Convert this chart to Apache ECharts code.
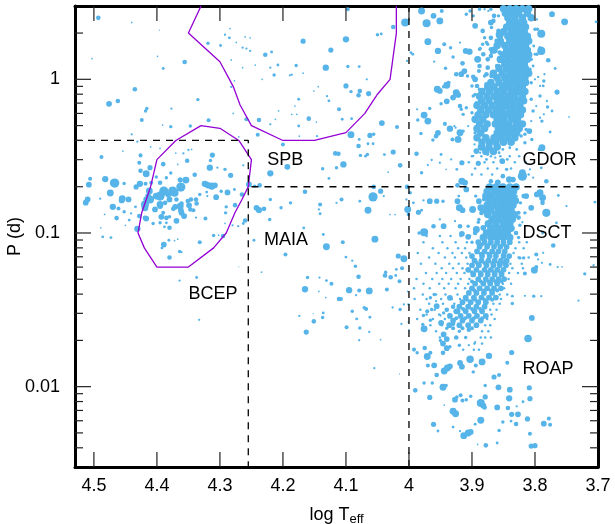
<!DOCTYPE html>
<html><head><meta charset="utf-8">
<style>html,body{margin:0;padding:0;background:#fff}#c{width:615px;height:524px}</style>
<script src="https://cdn.jsdelivr.net/npm/echarts@6/dist/echarts.min.js"></script>
</head><body><div id="c"></div>
<script>
// every star: [log Teff, log10 P(d), amplitude class]
const hotField=[[4.493,.4,4],[4.44,.37,1.5],[4.396,.32,1],[4.503,.135,1.5],[4.399,.15,1.5],[4.356,.113,4],[4.39,.07,2.5],[4.435,-.065,4],[4.476,-.159,5],[4.462,-.141,4],[4.335,-.132,3],[4.377,-.191,2],[4.416,-.19,3],[4.418,-.206,3],[4.424,-.265,3.5],[4.318,-.267,3.5],[4.378,-.308,3],[4.391,-.298,1.5],[4.347,-.304,3],[4.44,-.358,2],[4.431,-.406,2],[4.488,-.506,3.5],[4.454,-.467,1.5],[4.426,-.495,3.5],[4.428,-.543,3.5],[4.426,-.595,4],[4.506,-.647,3.5],[4.508,-.686,5],[4.482,-.649,5.5],[4.467,-.675,8],[4.469,-.673,6],[4.452,-.678,3],[4.474,-.74,6],[4.51,-.782,5],[4.513,-.803,5],[4.49,-.777,2],[4.455,-.777,6],[4.456,-.788,5],[4.445,-.782,5],[4.47,-.83,5.5],[4.461,-.84,3.5],[4.452,-.862,3],[4.483,-.879,1.5],[4.464,-.903,4],[4.441,-.873,2],[4.444,-.916,2.5],[4.45,-.95,1.5],[4.489,-.966,1.5],[4.486,-1.025,2.5],[4.473,-1.03,2.5],[4.431,-.973,5.5],[4.434,-.83,2.5],[4.37,-.48,1.5],[4.35,-.46,2],[4.395,-.45,1.5],[4.41,-.44,1.5]];
const bcepCore=[[4.433,-.7,4.5],[4.427,-.68,5.5],[4.417,-.615,6],[4.411,-.575,4.5],[4.418,-.68,3.5],[4.409,-.673,3.5],[4.401,-.636,3],[4.395,-.673,4],[4.39,-.552,4],[4.378,-.61,3],[4.385,-.64,3],[4.363,-.654,4.5],[4.352,-.53,4],[4.34,-.621,4],[4.316,-.575,5.5],[4.354,-.656,6],[4.362,-.701,8],[4.375,-.727,8],[4.372,-.738,7],[4.389,-.727,8],[4.412,-.727,6],[4.414,-.76,5],[4.411,-.782,7],[4.401,-.76,6],[4.395,-.76,8],[4.382,-.75,5],[4.38,-.782,5],[4.419,-.814,7],[4.417,-.782,5],[4.419,-.836,6],[4.395,-.814,6],[4.387,-.804,4],[4.369,-.782,4],[4.361,-.808,4],[4.351,-.792,4],[4.346,-.782,4],[4.338,-.782,4],[4.337,-.808,4],[4.349,-.82,5],[4.342,-.852,3.5],[4.347,-.847,4],[4.403,-.847,5],[4.395,-.825,5],[4.371,-.83,5],[4.363,-.825,6],[4.362,-.852,5],[4.374,-.843,4],[4.361,-.869,5],[4.357,-.89,5],[4.39,-.869,3.5],[4.393,-.895,5],[4.385,-.902,4],[4.38,-.895,3],[4.369,-.921,5],[4.417,-.906,5],[4.419,-.902,4],[4.428,-.89,4],[4.406,-.938,3],[4.395,-.934,3],[4.385,-.934,2.5],[4.38,-.966,4],[4.388,-.96,2.5],[4.356,-.89,4],[4.323,-.906,3.5],[4.338,-.9,2],[4.324,-.68,5.5],[4.319,-.69,5.5],[4.313,-.695,6.5],[4.308,-.69,5],[4.321,-.684,5],[4.298,-.728,3],[4.306,-.767,5],[4.288,-.736,5],[4.277,-.717,2.5],[4.265,-.75,4],[4.276,-.819,4],[4.29,-.83,3],[4.291,-.869,3],[4.321,-.734,2.5],[4.32,-.76,2],[4.332,-.749,3],[4.283,-.625,4.5],[4.304,-.575,2],[4.292,-.586,3],[4.263,-.56,2],[4.312,-.493,4.5],[4.315,-.528,3],[4.358,-.482,2],[4.345,-.456,1.5],[4.367,-.554,1.5],[4.26,-.919,4],[4.263,-.938,2.5],[4.271,-.956,2],[4.292,-.938,1.5],[4.28,-.95,2],[4.295,-1.02,4],[4.31,-1.016,3],[4.302,-1.014,1.5],[4.332,-1.06,3.5],[4.364,-1.12,3],[4.367,-1.04,1.5],[4.372,-1.05,1.5],[4.381,-1.047,2.5],[4.389,-1.075,5],[4.392,-1.097,2.5],[4.38,-1.16,4],[4.361,-1.125,2],[4.337,-1.29,2.5],[4.364,-1.31,2],[4.333,-1.565,2],[4.27,-1.22,1],[4.234,-1.255,1.5]];
const midField=[[4.319,.235,3],[4.299,.22,2.5],[4.292,.29,2],[4.284,.33,1.5],[4.285,.27,2.5],[4.274,.24,1.5],[4.26,.276,1.5],[4.252,.27,1.5],[4.264,.206,2],[4.258,.2,2],[4.252,.185,2],[4.228,.16,4],[4.218,.178,2.5],[4.168,.248,4.5],[4.124,.19,4.5],[4.282,.126,1.5],[4.264,.076,1.5],[4.244,.093,1.5],[4.208,.093,2.5],[4.22,.076,2],[4.179,.09,3],[4.132,.076,5.5],[4.214,.028,3],[4.189,.026,2],[4.186,.03,2],[4.168,.04,1.5],[4.233,0,1.5],[4.277,-.01,1.5],[4.282,-.05,2],[4.151,-.076,1.5],[4.144,-.048,1.5],[4.13,-.11,2],[4.175,-.13,2.5],[4.127,-.14,2.5],[4.111,-.195,3.5],[4.207,-.206,1.5],[4.181,-.174,1.5],[4.186,-.228,1.5],[4.178,-.228,1.5],[4.279,-.222,1.5],[4.258,-.26,3.5],[4.238,-.265,4],[4.212,-.26,1.5],[4.159,-.256,4],[4.147,-.278,1.5],[4.175,-.304,2.5],[4.22,-.293,2],[4.24,-.36,3.5],[4.174,-.37,1.5],[4.146,-.37,2],[4.27,-.374,1.5],[4.2,-.424,3.5],[4.117,-.482,4],[4.112,-.484,4],[4.193,-.569,5],[4.22,-.612,5.5],[4.137,-.582,3],[4.115,-.576,3],[4.127,-.645,2.5],[4.254,-.684,5],[4.237,-.69,4],[4.245,-.695,3],[4.165,-.732,4],[4.22,-.782,3],[4.188,-.804,3],[4.203,-.836,3],[4.141,-.814,3.5],[4.143,-.847,2],[4.141,-.875,2.5],[4.115,-.804,2],[4.242,-.836,5],[4.238,-.851,5.5],[4.23,-.843,4],[4.221,-.912,3],[4.167,-.967,2.5],[4.136,-1.01,2.5],[4.131,-1.09,6],[4.246,-1.047,2.5],[4.196,-1.14,3.5],[4.161,-1.29,3],[4.142,-1.29,2],[4.131,-1.31,2.5],[4.123,-1.33,3.5],[4.165,-1.366,5.5],[4.143,-1.38,1.5],[4.132,-1.42,1.5],[4.111,-1.43,4],[4.174,-1.54,2],[4.152,-1.525,1],[4.136,-1.52,2.5],[4.137,-1.55,3],[4.151,-1.575,4],[4.163,-1.645,4.5],[4.097,.456,3.5],[4.1,.26,5.5],[4.05,.29,3],[4.044,.295,2.5],[4.025,.34,4],[4.006,.37,7],[4.097,.083,3],[4.079,.083,2.5],[4.067,0,2],[4.1,-.043,4.5],[4.092,-.08,3],[4.078,-.076,4],[4.08,-.104,4],[4.064,-.093,4.5],[4.106,-.26,2.5],[4.091,-.256,2.5],[4.043,-.285,5],[4.062,-.365,4.5],[4.056,-.358,3],[4.092,-.36,6],[4.019,-.31,3.5],[4.025,-.473,4.5],[4.039,-.49,2.5],[4.066,-.489,3],[4.077,-.495,3],[4.069,-.5,2.5],[4.08,-.434,4],[4.079,-.391,2.5],[4.065,-.419,2.5],[4.057,-.419,2.5],[4.104,-.554,5.5],[4.014,-.56,4],[4.033,-.604,1.5],[4.057,-.765,8],[4.045,-.728,4.5],[4.056,-.7,4],[4.065,-.852,6],[4.107,-.782,3.5],[4.078,-.793,2.5],[4.04,-.76,2],[4.03,-.88,1.5],[4.022,-.88,1.5],[4.054,-1.04,6],[4.105,-1.06,3.5],[4.1,-1.157,2.5],[4.09,-1.18,2],[4.085,-1.216,3],[4.08,-1.285,4],[4.017,-1.15,4.5],[4.008,-1.168,6],[4.011,-1.23,3.5],[4.02,-1.237,2.5],[4.037,-1.255,3],[4.038,-1.277,4],[4.029,-1.288,4],[4.021,-1.277,2.5],[4.015,-1.314,3.5],[4.035,-1.368,3.5],[4.095,-1.372,5.5],[4.079,-1.374,3.5],[4.063,-1.377,6],[4.084,-1.405,2],[4.108,-1.429,3.5],[4.09,-1.509,3],[4.071,-1.487,3],[4.068,-1.494,3.5],[4.026,-1.485,2],[4.014,-1.498,3],[4.008,-1.465,2],[4.001,-1.465,2],[4.062,-1.548,2.5],[4.083,-1.559,2.5],[4.012,-1.592,2],[4.099,-1.613,3.5],[4.078,-1.618,3],[4.063,-1.644,2],[4.079,-1.698,2],[4.045,-1.694,1.5],[4.055,-1.88,2],[4.015,-1.917,1],[4,-1.63,1.5],[4.001,-1.58,1.5],[4.002,-1.38,1.5]];
const coolUpper=[[3.98,.445,6],[3.972,.365,7],[3.961,.413,5],[3.951,.38,6],[3.948,.445,3.5],[3.97,.245,6],[3.954,.185,5.5],[3.944,.228,3.5],[3.934,.206,3],[3.919,.239,2],[3.91,.185,5],[3.904,.18,5.5],[3.887,.2,3],[3.93,.145,3],[3.997,.174,2.5],[3.994,.163,2.5],[4.003,.12,2],[3.96,.115,2],[3.915,.104,4],[3.912,.054,5],[3.917,.033,5],[3.925,.033,4],[3.942,.072,3],[3.898,.017,4],[3.889,.054,3.5],[3.877,.033,4],[3.94,-.039,6],[3.945,-.048,3],[3.955,-.065,6],[3.951,-.076,5],[3.937,-.022,3.5],[3.925,-.087,6],[3.922,-.102,5],[3.94,-.143,5],[3.93,-.119,5],[3.94,-.141,3],[3.949,-.159,3],[3.967,-.19,3],[3.976,-.233,6],[3.97,-.272,6],[3.986,-.265,3],[3.987,-.195,2],[3.943,-.29,3.5],[3.928,-.304,2],[3.954,-.348,5],[3.957,-.37,4],[3.981,-.352,3],[3.962,-.395,3],[3.935,-.321,5.5],[3.931,-.391,3.5],[3.919,-.348,6],[3.922,-.391,6],[3.914,-.337,3],[3.926,-.315,2],[3.894,-.373,2],[3.988,-.484,4],[3.98,-.608,3],[3.97,-.558,2],[3.964,-.525,2],[3.949,-.489,2.5],[3.951,-.543,2],[3.933,-.521,2],[3.941,-.586,1.5],[3.916,-.543,4.5],[3.924,-.586,2.5],[3.916,-.663,6],[3.911,-.673,5],[3.923,-.69,4],[3.909,-.717,5],[3.888,.456,3],[3.87,.456,3],[3.88,.456,2],[3.865,.413,4],[3.87,.369,5],[3.866,.38,4],[3.856,.29,7],[3.87,.27,4],[3.883,.315,4],[3.88,.27,3],[3.883,.228,3],[3.875,.228,3],[3.861,.25,4],[3.87,.195,4],[3.891,.13,6],[3.875,.13,4],[3.87,.152,4],[3.856,.12,4],[3.875,.076,4],[3.86,.087,4],[3.85,.12,4],[3.888,.087,4],[3.895,0,5],[3.892,-.043,4],[3.898,-.109,3],[3.9,-.043,3],[3.907,.022,3],[3.88,.022,3],[3.864,.011,3],[3.806,.39,2],[3.797,.39,2],[3.796,.326,3],[3.8,.326,3],[3.81,.26,3],[3.797,.163,3],[3.803,.087,2.5],[3.8,.163,2.5],[3.802,.217,2.5],[3.773,.424,5],[3.753,.374,6],[3.703,.374,2.5],[3.79,.297,7],[3.79,.185,7],[3.792,.206,3],[3.779,.124,4],[3.768,.07,2.5],[3.765,-.083,4.5],[3.785,.033,2],[3.786,-.011,3],[3.787,-.043,2.5],[3.795,.015,2],[3.792,-.109,3],[3.781,-.141,2],[3.78,-.18,3],[3.773,-.206,2.5],[3.786,-.228,2],[3.746,-.245,1.5],[3.789,-.272,3],[3.776,-.343,2.5],[3.809,-.337,5],[3.816,-.358,3],[3.806,-.272,2]];
const coolFringe=[[3.895,.348,5],[3.898,.413,3],[3.909,.424,3],[3.903,.445,3],[3.874,.445,2],[3.858,.413,3],[3.869,.337,3],[3.858,.315,4],[3.877,.239,3],[3.888,.195,3],[3.869,.174,3],[3.882,.163,4],[3.856,.174,4],[3.845,.217,4],[3.858,.087,4],[3.869,.022,4],[3.877,-.033,4],[3.888,-.065,3],[3.895,-.098,3],[3.893,-.152,3],[3.888,-.185,4],[3.895,-.271,4],[3.893,-.228,3],[3.89,-.315,3],[3.895,-.348,3],[3.9,-.217,3],[3.909,-.185,3],[3.919,-.174,4],[3.917,-.195,3],[3.914,-.228,3],[3.906,-.304,2],[3.806,-.13,3],[3.803,-.206,3],[3.798,-.174,2],[3.806,-.022,3],[3.8,0,2],[3.808,.065,3],[3.806,.13,3],[3.792,-.043,2],[3.792,-.25,2],[3.814,-.326,3],[3.822,-.369,3],[3.83,-.39,3],[3.84,-.402,3],[3.885,-.87,4],[3.89,-.93,3],[3.895,-1,4],[3.9,-1.06,3],[3.826,-.9,4],[3.824,-.95,3],[3.83,-1,4],[3.826,-1.03,3],[3.82,-.93,2]];
const coolBridge=[[3.789,-.445,6],[3.793,-.456,3],[3.805,-.391,3],[3.816,-.413,3],[3.835,-.413,3],[3.829,-.456,2.5],[3.84,-.445,2.5],[3.851,-.456,2.5],[3.857,-.478,2.5],[3.866,-.456,2],[3.875,-.489,2.5],[3.893,-.467,5],[3.896,-.424,2],[3.877,-.521,2.5],[3.863,-.51,2],[3.852,-.532,5],[3.844,-.521,2.5],[3.89,-.547,4.5],[3.887,-.478,2],[3.898,-.499,2],[3.82,-.63,8],[3.82,-.608,6],[3.835,-.652,5],[3.841,-.652,5.5],[3.851,-.63,4],[3.859,-.67,5],[3.87,-.663,4],[3.845,-.586,3],[3.782,-.663,4],[3.79,-.576,2.5],[3.808,-.586,2],[3.803,-.64,2],[3.792,-.738,6],[3.797,-.749,5],[3.788,-.771,6],[3.782,-.869,7],[3.788,-.804,4],[3.763,-.756,2.5],[3.766,-.934,2.5],[3.788,-1,2.5],[3.705,-.799,2.5],[3.75,-.825,2],[3.806,-.836,5],[3.826,-.869,3.5],[3.816,-.869,3],[3.814,-.76,5],[3.823,-.804,3],[3.818,-.76,4],[3.832,-.7,3],[3.83,-.76,3],[4.003,-.7,4],[3.998,-.738,3],[4.004,-.782,2],[4.002,-.847,6],[4.001,-.88,3],[3.985,-.865,4.5],[3.993,-.804,2.5],[3.967,-.793,5],[3.956,-.793,4.5],[3.977,-.788,2],[3.98,-.852,2.5],[3.946,-.793,3],[3.92,-.836,6],[3.915,-.852,5],[3.899,-.847,6],[3.923,-.793,5],[3.921,-.76,2.5],[3.886,-.836,6],[3.889,-.793,5],[3.894,-.76,3],[3.881,-.782,3.5],[3.976,-.995,7],[3.984,-1,3],[3.945,-.956,5],[3.927,-.923,2],[3.919,-.956,4],[3.961,-.956,4],[3.951,-.912,2],[3.906,-.956,3],[3.893,-.977,6],[3.882,-.966,5],[3.916,-1.005,5],[3.906,-1.025,5],[3.889,-.912,3],[3.771,-1.081,4]];
const coolLower=[[3.99,-2.024,4],[3.976,-1.976,3],[3.963,-1.976,3],[3.967,-2.07,4.5],[3.946,-2.004,6],[3.941,-1.993,3],[3.944,-2.12,1.5],[3.961,-2.245,4.5],[3.954,-2.289,2.5],[3.93,-2.16,6],[3.926,-2.176,6],[3.93,-2.263,2.5],[3.927,-2.085,5],[3.924,-2.067,3],[3.918,-2.056,3.5],[3.915,-2.09,3.5],[3.909,-2.085,3],[3.902,-2.063,3],[3.919,-2.29,2],[3.913,-2.319,6],[3.906,-2.302,6],[3.902,-2.295,5],[3.886,-2.106,7],[3.882,-2.124,5],[3.88,-2.135,4],[3.879,-2.067,4.5],[3.879,-1.993,3],[3.895,-2.245,2.5],[3.886,-2.219,6],[3.857,-2.285,3],[3.878,-2.382,4],[3.86,-2.367,2.5],[3.891,-2.376,1.5],[3.86,-2.135,5],[3.841,-2.076,5.5],[3.843,-2.139,4],[3.84,-2.02,5],[3.858,-2.004,5],[3.865,-1.937,4.5],[3.857,-1.924,3.5],[3.837,-2.18,4.5],[3.827,-2.18,5],[3.829,-2.128,2],[3.819,-2.098,2.5],[3.851,-2.23,3],[3.838,-2.224,2.5],[3.83,-2.243,4],[3.812,-2.21,4.5],[3.808,-2.306,3.5],[3.806,-2.387,4.5],[3.8,-2.384,4.5],[3.809,-2.007,4.5],[3.808,-2.078,4.5],[3.786,-2.241,5],[3.778,-2.208,3.5],[3.776,-2.248,3.5],[3.837,-1.778,4.5],[3.844,-1.844,3.5],[3.873,-1.8,5.5],[3.884,-1.839,6],[3.894,-1.863,3.5],[3.903,-1.822,6.5],[3.916,-1.87,5],[3.919,-1.846,5],[3.939,-1.878,6],[3.944,-1.898,6],[3.935,-1.868,5],[3.956,-1.924,4],[3.96,-1.861,5],[3.97,-1.863,3.5],[3.971,-1.804,6],[3.966,-1.78,3.5],[3.975,-1.748,4],[3.992,-1.759,3.5],[3.987,-1.78,3],[3.898,-1.904,3],[3.811,-1.687,6.5],[3.805,-1.553,5],[3.79,-1.411,2],[3.802,-1.411,3],[3.816,-1.409,2],[3.836,-1.411,2.5],[3.836,-1.459,3],[3.731,-1.44,2],[3.721,-1.266,3],[3.707,-1.21,2],[3.757,-1.22,1.5],[3.764,-1.222,2],[3.776,-1.205,2.5],[3.801,-1.242,6],[3.798,-1.222,3.5],[3.816,-1.264,3.5],[3.789,-1.194,2],[3.795,-1.172,2],[3.798,-1.14,3.5],[3.787,-1.129,2],[3.824,-1.162,3],[3.818,-1.162,3],[3.976,-1.624,6],[3.978,-1.596,3],[3.977,-1.537,3],[3.966,-1.568,3],[3.949,-1.585,5],[3.95,-1.537,2],[3.956,-1.476,5],[3.964,-1.498,3],[3.971,-1.509,3.5],[3.957,-1.444,2],[3.966,-1.422,3],[3.96,-1.4,3],[3.935,-1.422,5],[3.94,-1.5,4],[3.935,-1.54,5],[3.945,-1.52,3],[3.93,-1.48,4],[3.923,-1.51,5],[3.93,-1.59,4],[3.94,-1.62,3],[3.945,-1.66,5],[3.94,-1.69,5],[3.946,-1.72,5],[3.94,-1.75,5],[3.946,-1.78,4],[3.935,-1.74,3],[3.95,-1.7,3],[3.92,-1.73,3],[3.925,-1.68,4],[3.91,-1.68,3],[3.905,-1.73,2],[3.895,-1.71,2],[3.92,-1.64,3],[3.905,-1.63,4]];
// dense cores, read row by row: [log10 P, [log Teff, ...]]
const gdorAmp=6.5;
const gdorRows=[[.46,[3.85,3.84,3.83,3.82,3.81]],[.43,[3.847,3.836,3.826,3.812]],[.4,[3.843,3.832,3.82,3.806]],[.37,[3.84,3.829,3.818]],[.34,[3.845,3.834,3.824,3.815]],[.31,[3.85,3.838,3.828,3.817]],[.28,[3.843,3.833,3.822,3.812]],[.25,[3.855,3.84,3.83,3.82,3.81]],[.22,[3.86,3.848,3.836,3.826,3.815]],[.19,[3.865,3.845,3.834,3.823,3.812]],[.16,[3.85,3.84,3.83,3.82,3.81]],[.13,[3.855,3.843,3.832,3.822,3.812]],[.1,[3.848,3.838,3.828,3.817]],[.07,[3.857,3.845,3.835,3.825,3.815]],[.04,[3.866,3.852,3.84,3.83,3.82,3.81]],[.01,[3.86,3.848,3.837,3.827,3.816]],[-.02,[3.87,3.857,3.845,3.834,3.823,3.815]],[-.05,[3.875,3.865,3.852,3.841,3.83,3.82]],[-.08,[3.884,3.872,3.86,3.849,3.837,3.826,3.816]],[-.11,[3.888,3.876,3.864,3.854,3.843,3.832,3.82]],[-.14,[3.885,3.873,3.86,3.85,3.839,3.828,3.818]],[-.17,[3.892,3.88,3.868,3.857,3.846,3.835,3.824]],[-.2,[3.886,3.874,3.862,3.852,3.84,3.83,3.82]],[-.23,[3.89,3.878,3.866,3.856,3.845,3.834,3.823]],[-.26,[3.895,3.883,3.86,3.85,3.838,3.828]],[-.29,[3.888,3.876,3.863,3.853,3.842,3.83,3.82]],[-.32,[3.892,3.88,3.858,3.847,3.836,3.825]],[-.35,[3.886,3.86,3.85,3.84,3.829]],[-.38,[3.892,3.878,3.865,3.854,3.843,3.832]],[-.41,[3.884,3.872,3.862,3.85,3.838]],[-.44,[3.885,3.873,3.86]],[-.47,[3.878,3.866]]];
const dsctAmp=6.5;
const dsctRows=[[-.7,[3.872,3.862,3.851,3.84,3.83]],[-.73,[3.876,3.865,3.855,3.844,3.834]],[-.76,[3.878,3.868,3.857,3.847,3.836]],[-.79,[3.873,3.862,3.852,3.841,3.831]],[-.82,[3.876,3.865,3.854,3.845,3.835]],[-.85,[3.88,3.87,3.858,3.848,3.838]],[-.88,[3.875,3.863,3.852,3.842,3.833]],[-.91,[3.868,3.857,3.846,3.836]],[-.94,[3.874,3.862,3.85,3.84]],[-.97,[3.87,3.859,3.848,3.838]],[-1,[3.877,3.866,3.855,3.844]],[-1.03,[3.882,3.87,3.86,3.85,3.84]]];
const lowerAmp=5;
const lowerRows=[[-1.06,[3.89,3.88,3.87,3.86,3.85,3.84]],[-1.09,[3.888,3.876,3.865,3.855,3.845]],[-1.12,[3.892,3.88,3.868,3.858,3.848]],[-1.15,[3.9,3.884,3.872,3.862,3.85,3.841]],[-1.18,[3.896,3.885,3.874,3.864,3.854,3.845]],[-1.21,[3.9,3.889,3.877,3.866,3.856,3.846]],[-1.24,[3.906,3.893,3.88,3.87,3.86,3.85]],[-1.27,[3.898,3.886,3.875,3.864,3.853]],[-1.3,[3.89,3.878,3.868,3.858,3.849]],[-1.33,[3.895,3.882,3.871,3.86]],[-1.36,[3.9,3.888,3.876,3.865,3.854]],[-1.39,[3.905,3.893,3.881,3.868]],[-1.42,[3.91,3.897,3.885,3.873,3.862]],[-1.45,[3.915,3.902,3.89,3.878]],[-1.48,[3.92,3.906,3.893,3.88]],[-1.51,[3.925,3.91,3.896,3.884]],[-1.54,[3.918,3.905,3.892,3.878]],[-1.57,[3.93,3.915,3.9,3.886]],[-1.6,[3.936,3.92,3.906,3.893]]];
const fillAmp=3.5;
const fillRows=[[-1.075,[3.884,3.873,3.862,3.851]],[-1.135,[3.886,3.874,3.862,3.85]],[-1.195,[3.892,3.88,3.868,3.858,3.85]],[-1.255,[3.9,3.887,3.875,3.865,3.855]],[-1.315,[3.9,3.886,3.874,3.863,3.853]],[-1.375,[3.896,3.882,3.87,3.86]],[-1.435,[3.908,3.895,3.88,3.868]],[-1.495,[3.914,3.9,3.887]],[-1.555,[3.925,3.911,3.897,3.884]],[-1.62,[3.93,3.915,3.9]]];
const faintAmp=2.2;
const faintRows=[[-.5,[3.9,3.885,3.87,3.855,3.84,3.825]],[-.54,[3.905,3.88,3.866,3.85,3.832,3.815]],[-.58,[3.895,3.875,3.86,3.838]],[-.62,[3.9,3.885,3.868,3.81]],[-1.02,[3.972,3.951,3.934,3.918,3.903]],[-1.06,[3.977,3.947,3.926,3.908,3.825,3.813]],[-1.1,[3.962,3.939,3.922,3.911,3.831,3.818]],[-1.13,[3.986,3.953,3.931,3.916,3.904,3.834]],[-1.16,[3.968,3.943,3.927,3.909,3.826,3.81]],[-1.2,[3.981,3.958,3.936,3.921,3.907,3.839,3.821]],[-1.23,[3.948,3.93,3.915,3.836,3.819]],[-1.26,[3.973,3.956,3.941,3.924,3.912,3.841,3.827]],[-1.3,[3.988,3.963,3.947,3.933,3.918,3.904,3.842]],[-1.33,[3.977,3.952,3.937,3.922,3.906,3.851,3.838]],[-1.36,[3.992,3.967,3.944,3.926,3.911,3.849]],[-1.4,[3.978,3.957,3.942,3.923,3.856,3.844]],[-1.43,[3.991,3.972,3.949,3.932,3.919,3.854]],[-1.46,[3.968,3.946,3.928,3.866,3.856]],[-1.5,[3.982,3.959,3.941,3.871,3.861]],[-1.53,[3.972,3.952,3.936,3.869]],[-1.56,[3.987,3.962,3.943,3.876,3.864]],[-1.6,[3.966,3.948,3.879,3.871]],[-1.64,[3.957,3.884,3.874]],[-1.68,[3.951,3.886,3.879,3.87]],[-1.72,[3.896,3.884]],[-1.76,[3.914,3.897,3.889]]];
// instability-strip contours and boundaries: [log Teff, P]
const bcepContour=[[4.33,.5],[4.3,.48],[4.27,.4],[4.25,.3],[4.255,.2],[4.265,.165],[4.276,.136],[4.29,.1],[4.31,.08],[4.35,.06],[4.4,.06],[4.42,.08],[4.43,.1],[4.424,.136],[4.41,.2],[4.4,.3],[4.37,.4],[4.33,.5]];
const spbContour=[[4.33,3],[4.35,2],[4.3,1.3],[4.279,.9],[4.268,.68],[4.25,.5],[4.2,.4],[4.15,.4],[4.1,.45],[4.07,.6],[4.05,.8],[4.03,1],[4.02,2],[4.02,3]];
const boundaries=[[[4.53,.4],[4.255,.4],[4.255,.003]],[[4.25,.2],[3.7,.2]],[[4,.003],[4,3]]];
const classNames=["SPB","MAIA","BCEP","GDOR","DSCT","ROAP"];
const classAnchors=[[4.225,.3],[4.23,.09],[4.35,.04],[3.82,.3],[3.82,.1],[3.82,.013]];
// tick values of the frame
const tempTicks=[3.8,3.9,4,4.1,4.2,4.3,4.4,4.5];
const majorPeriods=[0.01,0.1,1];
const minorPeriods=[0.004,0.005,0.006,0.007,0.008,0.009,0.02,0.03,0.04,0.05,0.06,0.07,0.08,0.09,0.2,0.3,0.4,0.5,0.6,0.7,0.8,0.9,2];
const tMin=3.7,tMax=4.53,pMin=0.003,pMax=3;

const expand=(rows,amp)=>rows.flatMap(([lp,ts])=>ts.map(t=>[t,lp,amp]));
const stars=[].concat(hotField,bcepCore,midField,coolUpper,coolBridge,coolLower,coolFringe,expand(faintRows,faintAmp),expand(lowerRows,lowerAmp),expand(fillRows,fillAmp),expand(dsctRows,dsctAmp),expand(gdorRows,gdorAmp)).map(([t,lp,a])=>[t,Math.pow(10,lp),a]);

const font='"Liberation Sans"', fs=18, ink='#000';
// frame ticks as thin rectangular symbols anchored on the axes
const tickMarks=(data,size,offset)=>({type:'scatter',data,symbol:'rect',symbolSize:size,symbolOffset:offset,silent:true,clip:false,z:10,itemStyle:{color:'#222',opacity:1}});
const xBase={type:'value',min:tMin,max:tMax,interval:.1,inverse:true,splitLine:{show:false},axisTick:{show:false}};
const yBase={type:'log',logBase:10,min:pMin,max:pMax,splitLine:{show:false},minorSplitLine:{show:false},axisTick:{show:false},minorTick:{show:false}};
const frame={show:true,onZero:false,lineStyle:{color:'#000',width:3}};
const c=echarts.init(document.getElementById('c'),null,{renderer:'canvas'});
c.setOption({
 animation:false,
 grid:{left:75,right:17,top:6,bottom:57,containLabel:false,outerBoundsMode:'none'},
 xAxis:[
  {...xBase,position:'bottom',axisLine:frame,
   axisLabel:{color:ink,fontFamily:font,fontSize:fs,margin:10,showMaxLabel:false},
   name:'log T{s|eff}',nameLocation:'middle',nameGap:37,
   nameTextStyle:{color:ink,fontFamily:font,fontSize:fs,rich:{s:{fontFamily:font,fontSize:13,color:ink,verticalAlign:'bottom',padding:[9,0,0,0]}}}},
  {...xBase,position:'top',axisLine:frame,axisLabel:{show:false}}
 ],
 yAxis:[
  {...yBase,position:'left',axisLine:frame,
   axisLabel:{color:ink,fontFamily:font,fontSize:fs,margin:15,showMinLabel:false,showMaxLabel:false,formatter:v=>String(v)},
   name:'P (d)',nameLocation:'middle',nameGap:51,nameRotate:90,nameMoveOverlap:false,nameTextStyle:{color:ink,fontFamily:font,fontSize:fs}},
  {...yBase,position:'right',axisLine:frame,axisLabel:{show:false}}
 ],
 series:[
  {type:'scatter',data:stars,symbol:'circle',symbolSize:v=>v[2]*1.15,large:false,progressive:0,itemStyle:{color:'#56B4E9',opacity:1},silent:true,z:2,clip:true},
  ...[bcepContour,spbContour].map(d=>({type:'line',data:d,symbol:'none',silent:true,clip:true,z:3,lineStyle:{color:'#9400D3',width:1.3}})),
  ...boundaries.map(d=>({type:'line',data:d,symbol:'none',silent:true,z:4,clip:true,lineStyle:{color:'#000',width:1.3,type:[7,6]}})),
  {type:'scatter',silent:true,z:5,symbolSize:0,itemStyle:{color:'#000',opacity:1},
   data:classNames.map((n,i)=>({name:n,value:classAnchors[i]})),
   label:{show:true,position:'right',distance:0,formatter:'{b}',color:ink,fontFamily:font,fontSize:fs,opacity:1}},
  tickMarks(tempTicks.map(t=>[t,pMin]),[1.2,15],[0,-7.5]),
  tickMarks(tempTicks.map(t=>[t,pMax]),[1.2,15],[0,7.5]),
  tickMarks(majorPeriods.map(p=>[tMax,p]),[16,1.2],[8,0]),
  tickMarks(majorPeriods.map(p=>[tMin,p]),[16,1.2],[-8,0]),
  tickMarks(minorPeriods.map(p=>[tMax,p]),[8,1.2],[4,0]),
  tickMarks(minorPeriods.map(p=>[tMin,p]),[8,1.2],[-4,0])
 ]
});
</script></body></html>
